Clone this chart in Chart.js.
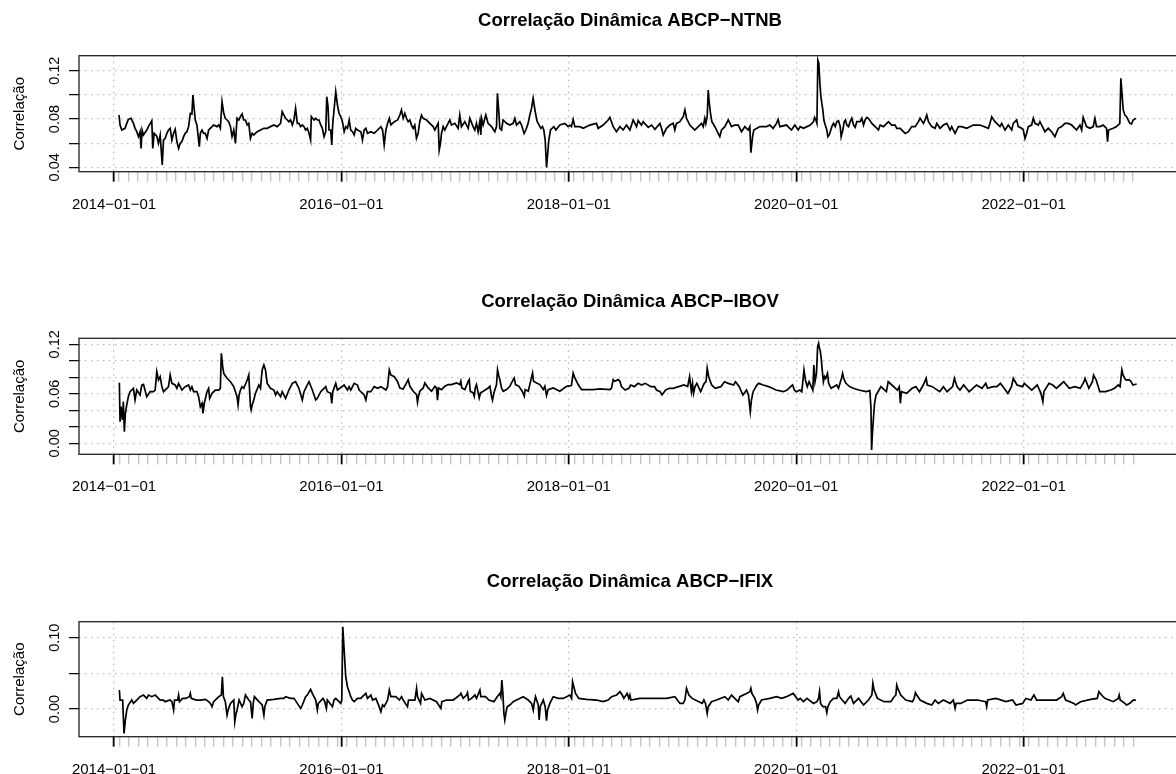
<!DOCTYPE html>
<html>
<head>
<meta charset="utf-8">
<script src="https://cdn.jsdelivr.net/npm/chart.js@4.4.1/dist/chart.umd.min.js"></script>
<style>
  html, body { margin: 0; padding: 0; background: #fff; overflow: hidden; }
  #wrap { position: relative; width: 1176px; height: 774px; overflow: hidden; background: #fff; }
  canvas { position: absolute; left: 0; }
</style>
</head>
<body>
<div id="wrap">
  <canvas id="c1"></canvas>
  <canvas id="c2"></canvas>
  <canvas id="c3"></canvas>
</div>
<script>
// ---- data (dates as decimal years) ----
const ntnbDates = [
  2014.044, 2014.053, 2014.068, 2014.097, 2014.112, 2014.126, 2014.150, 2014.171, 2014.185, 2014.200,
  2014.215, 2014.229, 2014.238, 2014.247, 2014.259, 2014.288, 2014.303, 2014.332, 2014.341, 2014.353,
  2014.376, 2014.391, 2014.406, 2014.424, 2014.435, 2014.450, 2014.465, 2014.479, 2014.494, 2014.509,
  2014.524, 2014.538, 2014.553, 2014.568, 2014.582, 2014.597, 2014.612, 2014.626, 2014.641, 2014.656,
  2014.671, 2014.685, 2014.694, 2014.706, 2014.715, 2014.729, 2014.750, 2014.759, 2014.774, 2014.788,
  2014.803, 2014.818, 2014.832, 2014.847, 2014.876, 2014.906, 2014.921, 2014.935, 2014.950, 2014.965,
  2014.979, 2014.994, 2015.009, 2015.024, 2015.038, 2015.053, 2015.068, 2015.082, 2015.097, 2015.112,
  2015.126, 2015.141, 2015.156, 2015.171, 2015.185, 2015.200, 2015.215, 2015.229, 2015.259, 2015.288,
  2015.318, 2015.347, 2015.376, 2015.406, 2015.435, 2015.465, 2015.479, 2015.494, 2015.509, 2015.524,
  2015.538, 2015.553, 2015.568, 2015.582, 2015.597, 2015.612, 2015.626, 2015.641, 2015.656, 2015.671,
  2015.685, 2015.700, 2015.715, 2015.729, 2015.735, 2015.759, 2015.774, 2015.788, 2015.803, 2015.818,
  2015.832, 2015.847, 2015.862, 2015.871, 2015.882, 2015.891, 2015.906, 2015.915, 2015.924, 2015.935,
  2015.950, 2015.965, 2015.979, 2015.994, 2016.009, 2016.024, 2016.038, 2016.053, 2016.068, 2016.082,
  2016.097, 2016.112, 2016.126, 2016.141, 2016.171, 2016.185, 2016.200, 2016.215, 2016.229, 2016.259,
  2016.288, 2016.318, 2016.347, 2016.362, 2016.376, 2016.391, 2016.406, 2016.421, 2016.435, 2016.465,
  2016.494, 2016.514, 2016.528, 2016.543, 2016.558, 2016.572, 2016.587, 2016.602, 2016.616, 2016.631,
  2016.645, 2016.660, 2016.675, 2016.689, 2016.704, 2016.719, 2016.748, 2016.777, 2016.807, 2016.821,
  2016.851, 2016.860, 2016.871, 2016.880, 2016.895, 2016.909, 2016.953, 2016.968, 2016.997, 2017.027,
  2017.041, 2017.056, 2017.085, 2017.115, 2017.129, 2017.158, 2017.173, 2017.188, 2017.202, 2017.217,
  2017.226, 2017.232, 2017.246, 2017.270, 2017.290, 2017.320, 2017.349, 2017.364, 2017.372, 2017.384,
  2017.393, 2017.408, 2017.422, 2017.452, 2017.481, 2017.510, 2017.525, 2017.540, 2017.569, 2017.584,
  2017.607, 2017.622, 2017.642, 2017.657, 2017.672, 2017.686, 2017.695, 2017.707, 2017.722, 2017.739,
  2017.754, 2017.768, 2017.780, 2017.792, 2017.804, 2017.812, 2017.824, 2017.839, 2017.868, 2017.886,
  2017.921, 2017.965, 2017.994, 2018.009, 2018.023, 2018.038, 2018.053, 2018.097, 2018.126, 2018.185,
  2018.243, 2018.258, 2018.302, 2018.346, 2018.361, 2018.390, 2018.419, 2018.449, 2018.478, 2018.507,
  2018.537, 2018.566, 2018.595, 2018.610, 2018.639, 2018.654, 2018.698, 2018.728, 2018.757, 2018.801,
  2018.815, 2018.830, 2018.859, 2018.889, 2018.918, 2018.932, 2018.947, 2018.977, 2019.006, 2019.021,
  2019.035, 2019.064, 2019.108, 2019.138, 2019.167, 2019.182, 2019.196, 2019.205, 2019.217, 2019.226,
  2019.234, 2019.246, 2019.258, 2019.284, 2019.314, 2019.328, 2019.343, 2019.372, 2019.402, 2019.431,
  2019.460, 2019.490, 2019.519, 2019.548, 2019.578, 2019.592, 2019.601, 2019.616, 2019.627, 2019.680,
  2019.739, 2019.768, 2019.797, 2019.826, 2019.841, 2019.856, 2019.914, 2019.958, 2019.988, 2020.017,
  2020.035, 2020.064, 2020.094, 2020.123, 2020.152, 2020.161, 2020.173, 2020.182, 2020.190, 2020.199,
  2020.208, 2020.217, 2020.225, 2020.234, 2020.243, 2020.255, 2020.269, 2020.278, 2020.290, 2020.299,
  2020.313, 2020.328, 2020.343, 2020.357, 2020.372, 2020.387, 2020.395, 2020.410, 2020.422, 2020.433,
  2020.445, 2020.460, 2020.474, 2020.489, 2020.504, 2020.518, 2020.533, 2020.562, 2020.577, 2020.592,
  2020.606, 2020.621, 2020.635, 2020.665, 2020.694, 2020.723, 2020.738, 2020.767, 2020.796, 2020.811,
  2020.840, 2020.870, 2020.884, 2020.914, 2020.958, 2020.987, 2021.016, 2021.045, 2021.075, 2021.089,
  2021.119, 2021.133, 2021.148, 2021.163, 2021.192, 2021.221, 2021.236, 2021.265, 2021.294, 2021.324,
  2021.353, 2021.367, 2021.397, 2021.426, 2021.455, 2021.499, 2021.558, 2021.616, 2021.690, 2021.704,
  2021.719, 2021.748, 2021.792, 2021.807, 2021.836, 2021.865, 2021.895, 2021.909, 2021.939, 2021.953,
  2021.982, 2021.997, 2022.012, 2022.026, 2022.041, 2022.070, 2022.085, 2022.100, 2022.129, 2022.143,
  2022.173, 2022.187, 2022.217, 2022.246, 2022.275, 2022.305, 2022.334, 2022.363, 2022.392, 2022.422,
  2022.451, 2022.466, 2022.495, 2022.510, 2022.524, 2022.553, 2022.583, 2022.612, 2022.627, 2022.641,
  2022.671, 2022.700, 2022.729, 2022.738, 2022.747, 2022.788, 2022.817, 2022.846, 2022.855, 2022.867,
  2022.876, 2022.890, 2022.905, 2022.919, 2022.934, 2022.949, 2022.963, 2022.987
];
const ntnbValues = [
  0.0833, 0.0750, 0.0709, 0.0723, 0.0764, 0.0797, 0.0806, 0.0764, 0.0723, 0.0695,
  0.0654, 0.0695, 0.0557, 0.0709, 0.0668, 0.0709, 0.0737, 0.0786, 0.0557, 0.0682,
  0.0659, 0.0599, 0.0668, 0.0419, 0.0626, 0.0640, 0.0682, 0.0709, 0.0723, 0.0626,
  0.0682, 0.0715, 0.0613, 0.0557, 0.0599, 0.0613, 0.0654, 0.0682, 0.0695, 0.0737,
  0.0847, 0.0842, 0.0999, 0.0875, 0.0792, 0.0751, 0.0571, 0.0682, 0.0709, 0.0682,
  0.0682, 0.0640, 0.0709, 0.0723, 0.0751, 0.0737, 0.0751, 0.0723, 0.0944, 0.0847,
  0.0806, 0.0792, 0.0778, 0.0737, 0.0654, 0.0709, 0.0599, 0.0806, 0.0792, 0.0820,
  0.0842, 0.0792, 0.0792, 0.0751, 0.0764, 0.0640, 0.0682, 0.0668, 0.0695, 0.0709,
  0.0723, 0.0723, 0.0737, 0.0751, 0.0737, 0.0764, 0.0861, 0.0833, 0.0806, 0.0792,
  0.0778, 0.0792, 0.0751, 0.0792, 0.0889, 0.0764, 0.0764, 0.0737, 0.0751, 0.0737,
  0.0709, 0.0723, 0.0682, 0.0626, 0.0820, 0.0792, 0.0806, 0.0792, 0.0792, 0.0751,
  0.0723, 0.0654, 0.0695, 0.0985, 0.0902, 0.0709, 0.0709, 0.0585, 0.0764, 0.0875,
  0.1026, 0.0916, 0.0847, 0.0820, 0.0778, 0.0695, 0.0737, 0.0723, 0.0792, 0.0709,
  0.0695, 0.0668, 0.0723, 0.0709, 0.0695, 0.0626, 0.0709, 0.0723, 0.0682, 0.0695,
  0.0682, 0.0709, 0.0737, 0.0709, 0.0585, 0.0709, 0.0764, 0.0806, 0.0751, 0.0778,
  0.0792, 0.0833, 0.0875, 0.0806, 0.0847, 0.0806, 0.0778, 0.0792, 0.0750, 0.0723,
  0.0750, 0.0640, 0.0681, 0.0778, 0.0833, 0.0806, 0.0792, 0.0764, 0.0737, 0.0709,
  0.0764, 0.0543, 0.0599, 0.0681, 0.0737, 0.0709, 0.0792, 0.0750, 0.0764, 0.0723,
  0.0833, 0.0737, 0.0778, 0.0723, 0.0806, 0.0737, 0.0709, 0.0764, 0.0695, 0.0778,
  0.0668, 0.0806, 0.0750, 0.0833, 0.0764, 0.0737, 0.0695, 0.0737, 0.1013, 0.0861,
  0.0723, 0.0709, 0.0792, 0.0764, 0.0750, 0.0764, 0.0806, 0.0750, 0.0778, 0.0750,
  0.0681, 0.0709, 0.0764, 0.0833, 0.0888, 0.0971, 0.0916, 0.0847, 0.0778, 0.0750,
  0.0723, 0.0737, 0.0709, 0.0626, 0.0400, 0.0488, 0.0626, 0.0709, 0.0737, 0.0709,
  0.0750, 0.0764, 0.0737, 0.0750, 0.0737, 0.0797, 0.0737, 0.0737, 0.0723, 0.0750,
  0.0764, 0.0723, 0.0750, 0.0792, 0.0814, 0.0737, 0.0695, 0.0737, 0.0709, 0.0750,
  0.0709, 0.0792, 0.0737, 0.0786, 0.0750, 0.0778, 0.0731, 0.0750, 0.0715, 0.0764,
  0.0723, 0.0668, 0.0723, 0.0750, 0.0764, 0.0709, 0.0764, 0.0778, 0.0819, 0.0875,
  0.0806, 0.0750, 0.0709, 0.0737, 0.0764, 0.0737, 0.0806, 0.0764, 0.0819, 0.1040,
  0.0944, 0.0847, 0.0778, 0.0737, 0.0681, 0.0654, 0.0709, 0.0737, 0.0792, 0.0737,
  0.0750, 0.0750, 0.0695, 0.0737, 0.0709, 0.0737, 0.0521, 0.0654, 0.0709, 0.0737,
  0.0737, 0.0750, 0.0723, 0.0764, 0.0797, 0.0737, 0.0750, 0.0709, 0.0750, 0.0709,
  0.0737, 0.0723, 0.0737, 0.0750, 0.0778, 0.0814, 0.0792, 0.0764, 0.1288, 0.1261,
  0.1095, 0.0985, 0.0930, 0.0875, 0.0792, 0.0750, 0.0709, 0.0654, 0.0668, 0.0695,
  0.0737, 0.0764, 0.0737, 0.0778, 0.0786, 0.0737, 0.0654, 0.0709, 0.0778, 0.0792,
  0.0750, 0.0737, 0.0778, 0.0806, 0.0750, 0.0731, 0.0778, 0.0778, 0.0806, 0.0750,
  0.0792, 0.0814, 0.0806, 0.0764, 0.0737, 0.0709, 0.0750, 0.0737, 0.0764, 0.0778,
  0.0750, 0.0750, 0.0723, 0.0723, 0.0681, 0.0695, 0.0737, 0.0737, 0.0778, 0.0806,
  0.0764, 0.0792, 0.0833, 0.0778, 0.0737, 0.0723, 0.0764, 0.0723, 0.0750, 0.0764,
  0.0709, 0.0737, 0.0681, 0.0737, 0.0737, 0.0723, 0.0750, 0.0750, 0.0723, 0.0764,
  0.0819, 0.0778, 0.0737, 0.0764, 0.0709, 0.0750, 0.0709, 0.0764, 0.0792, 0.0737,
  0.0723, 0.0709, 0.0640, 0.0681, 0.0737, 0.0750, 0.0806, 0.0764, 0.0750, 0.0778,
  0.0723, 0.0695, 0.0723, 0.0695, 0.0654, 0.0723, 0.0737, 0.0764, 0.0764, 0.0750,
  0.0723, 0.0709, 0.0750, 0.0709, 0.0814, 0.0737, 0.0723, 0.0737, 0.0806, 0.0737,
  0.0737, 0.0750, 0.0723, 0.0612, 0.0709, 0.0723, 0.0737, 0.0764, 0.1137, 0.0985,
  0.0875, 0.0833, 0.0819, 0.0792, 0.0764, 0.0759, 0.0792, 0.0806
];

const ibovDates = [
  2014.047, 2014.053, 2014.062, 2014.074, 2014.082, 2014.091, 2014.100, 2014.112, 2014.126, 2014.141,
  2014.171, 2014.185, 2014.200, 2014.229, 2014.244, 2014.259, 2014.288, 2014.318, 2014.347, 2014.362,
  2014.376, 2014.391, 2014.406, 2014.421, 2014.435, 2014.465, 2014.479, 2014.494, 2014.509, 2014.538,
  2014.553, 2014.568, 2014.597, 2014.626, 2014.656, 2014.671, 2014.685, 2014.700, 2014.729, 2014.744,
  2014.759, 2014.774, 2014.782, 2014.794, 2014.818, 2014.832, 2014.841, 2014.862, 2014.891, 2014.921,
  2014.935, 2014.944, 2014.956, 2014.965, 2014.994, 2015.024, 2015.053, 2015.068, 2015.082, 2015.091,
  2015.100, 2015.112, 2015.126, 2015.141, 2015.171, 2015.185, 2015.200, 2015.206, 2015.215, 2015.229,
  2015.244, 2015.274, 2015.288, 2015.303, 2015.318, 2015.332, 2015.347, 2015.376, 2015.406, 2015.421,
  2015.435, 2015.465, 2015.479, 2015.509, 2015.538, 2015.568, 2015.597, 2015.626, 2015.656, 2015.671,
  2015.700, 2015.715, 2015.744, 2015.774, 2015.788, 2015.818, 2015.862, 2015.876, 2015.906, 2015.915,
  2015.924, 2015.950, 2015.965, 2016.024, 2016.053, 2016.068, 2016.082, 2016.112, 2016.141, 2016.156,
  2016.200, 2016.215, 2016.229, 2016.259, 2016.288, 2016.318, 2016.347, 2016.391, 2016.406, 2016.421,
  2016.435, 2016.465, 2016.494, 2016.514, 2016.543, 2016.573, 2016.587, 2016.602, 2016.631, 2016.661,
  2016.669, 2016.678, 2016.690, 2016.719, 2016.734, 2016.763, 2016.793, 2016.822, 2016.836, 2016.845,
  2016.854, 2016.880, 2016.910, 2016.939, 2016.968, 2017.012, 2017.042, 2017.050, 2017.059, 2017.086,
  2017.115, 2017.124, 2017.133, 2017.159, 2017.168, 2017.177, 2017.188, 2017.203, 2017.212, 2017.223,
  2017.247, 2017.291, 2017.306, 2017.320, 2017.329, 2017.341, 2017.364, 2017.373, 2017.382, 2017.393,
  2017.408, 2017.423, 2017.452, 2017.481, 2017.511, 2017.520, 2017.531, 2017.561, 2017.590, 2017.608,
  2017.616, 2017.643, 2017.657, 2017.681, 2017.690, 2017.716, 2017.745, 2017.775, 2017.789, 2017.804,
  2017.818, 2017.863, 2017.921, 2017.980, 2018.023, 2018.038, 2018.053, 2018.082, 2018.112, 2018.156,
  2018.214, 2018.273, 2018.361, 2018.376, 2018.390, 2018.405, 2018.434, 2018.449, 2018.463, 2018.495,
  2018.528, 2018.544, 2018.576, 2018.609, 2018.641, 2018.673, 2018.722, 2018.754, 2018.771, 2018.803,
  2018.819, 2018.852, 2018.884, 2018.916, 2018.965, 2019.013, 2019.045, 2019.062, 2019.078, 2019.088,
  2019.097, 2019.110, 2019.126, 2019.159, 2019.191, 2019.207, 2019.217, 2019.230, 2019.256, 2019.288,
  2019.337, 2019.369, 2019.402, 2019.450, 2019.466, 2019.499, 2019.531, 2019.563, 2019.580, 2019.596,
  2019.606, 2019.621, 2019.654, 2019.670, 2019.709, 2019.757, 2019.790, 2019.822, 2019.887, 2019.919,
  2019.951, 2019.968, 2019.984, 2020.000, 2020.032, 2020.049, 2020.058, 2020.068, 2020.081, 2020.097,
  2020.113, 2020.146, 2020.155, 2020.165, 2020.178, 2020.188, 2020.197, 2020.204, 2020.210, 2020.220,
  2020.230, 2020.239, 2020.249, 2020.259, 2020.275, 2020.285, 2020.307, 2020.356, 2020.372, 2020.398,
  2020.408, 2020.417, 2020.437, 2020.469, 2020.502, 2020.550, 2020.615, 2020.647, 2020.657, 2020.663,
  2020.670, 2020.680, 2020.689, 2020.702, 2020.728, 2020.744, 2020.793, 2020.809, 2020.841, 2020.890,
  2020.906, 2020.916, 2020.925, 2020.971, 2021.019, 2021.052, 2021.084, 2021.117, 2021.143, 2021.152,
  2021.197, 2021.262, 2021.294, 2021.327, 2021.375, 2021.391, 2021.414, 2021.440, 2021.472, 2021.521,
  2021.570, 2021.586, 2021.634, 2021.667, 2021.683, 2021.732, 2021.764, 2021.796, 2021.861, 2021.893,
  2021.909, 2021.942, 2021.990, 2022.006, 2022.071, 2022.120, 2022.152, 2022.169, 2022.178, 2022.223,
  2022.256, 2022.288, 2022.320, 2022.353, 2022.401, 2022.450, 2022.498, 2022.531, 2022.540, 2022.573,
  2022.605, 2022.615, 2022.638, 2022.670, 2022.719, 2022.767, 2022.799, 2022.832, 2022.848, 2022.864,
  2022.874, 2022.897, 2022.929, 2022.945, 2022.961, 2022.994
];
const ibovValues = [
  0.0735, 0.0263, 0.0444, 0.0283, 0.0505, 0.0141, 0.0364, 0.0465, 0.0566, 0.0626,
  0.0667, 0.0525, 0.0646, 0.0586, 0.0707, 0.0715, 0.0566, 0.0626, 0.0626, 0.0646,
  0.0869, 0.0768, 0.0808, 0.0687, 0.0626, 0.0667, 0.0687, 0.0828, 0.0727, 0.0707,
  0.0667, 0.0727, 0.0646, 0.0687, 0.0707, 0.0646, 0.0687, 0.0626, 0.0626, 0.0566,
  0.0444, 0.0485, 0.0364, 0.0485, 0.0626, 0.0667, 0.0545, 0.0606, 0.0646, 0.0646,
  0.0667, 0.1091, 0.0929, 0.0848, 0.0788, 0.0747, 0.0687, 0.0626, 0.0566, 0.0465,
  0.0586, 0.0646, 0.0687, 0.0667, 0.0768, 0.0828, 0.0444, 0.0404, 0.0465, 0.0525,
  0.0606, 0.0707, 0.0667, 0.0889, 0.0949, 0.0889, 0.0727, 0.0667, 0.0646, 0.0586,
  0.0626, 0.0566, 0.0626, 0.0545, 0.0646, 0.0727, 0.0747, 0.0667, 0.0525, 0.0626,
  0.0707, 0.0747, 0.0646, 0.0525, 0.0545, 0.0626, 0.0687, 0.0626, 0.0606, 0.0485,
  0.0626, 0.0727, 0.0646, 0.0707, 0.0646, 0.0687, 0.0646, 0.0727, 0.0707, 0.0646,
  0.0586, 0.0525, 0.0626, 0.0626, 0.0687, 0.0667, 0.0687, 0.0646, 0.0687, 0.0889,
  0.0828, 0.0808, 0.0747, 0.0671, 0.0659, 0.0732, 0.0772, 0.0691, 0.0631, 0.0591,
  0.0498, 0.0571, 0.0631, 0.0671, 0.0732, 0.0671, 0.0631, 0.0691, 0.0671, 0.0523,
  0.0671, 0.0651, 0.0691, 0.0712, 0.0712, 0.0732, 0.0712, 0.0752, 0.0671, 0.0651,
  0.0752, 0.0772, 0.0631, 0.0611, 0.0571, 0.0671, 0.0712, 0.0611, 0.0551, 0.0611,
  0.0631, 0.0671, 0.0691, 0.0571, 0.0523, 0.0611, 0.0712, 0.0892, 0.0832, 0.0772,
  0.0671, 0.0631, 0.0651, 0.0691, 0.0772, 0.0792, 0.0712, 0.0691, 0.0631, 0.0571,
  0.0651, 0.0631, 0.0712, 0.0852, 0.0752, 0.0732, 0.0712, 0.0651, 0.0691, 0.0579,
  0.0651, 0.0671, 0.0631, 0.0691, 0.0700, 0.0852, 0.0792, 0.0712, 0.0651, 0.0651,
  0.0651, 0.0659, 0.0651, 0.0671, 0.0772, 0.0752, 0.0772, 0.0752, 0.0687, 0.0646,
  0.0667, 0.0707, 0.0687, 0.0727, 0.0707, 0.0727, 0.0687, 0.0687, 0.0646, 0.0626,
  0.0586, 0.0646, 0.0667, 0.0667, 0.0687, 0.0707, 0.0687, 0.0808, 0.0626, 0.0727,
  0.0606, 0.0687, 0.0727, 0.0626, 0.0727, 0.0747, 0.0909, 0.0808, 0.0707, 0.0667,
  0.0687, 0.0747, 0.0727, 0.0707, 0.0747, 0.0687, 0.0586, 0.0646, 0.0586, 0.0384,
  0.0525, 0.0626, 0.0707, 0.0727, 0.0707, 0.0687, 0.0667, 0.0646, 0.0626, 0.0646,
  0.0687, 0.0707, 0.0646, 0.0626, 0.0646, 0.0626, 0.0747, 0.0889, 0.0768, 0.0687,
  0.0747, 0.0646, 0.0949, 0.0747, 0.0848, 0.1172, 0.1212, 0.1151, 0.1131, 0.1030,
  0.0869, 0.0747, 0.0808, 0.0788, 0.0848, 0.0727, 0.0667, 0.0707, 0.0667, 0.0788,
  0.0848, 0.0788, 0.0727, 0.0687, 0.0667, 0.0646, 0.0626, 0.0638, 0.0444, -0.0081,
  0.0121, 0.0323, 0.0485, 0.0586, 0.0646, 0.0687, 0.0626, 0.0747, 0.0707, 0.0646,
  0.0687, 0.0485, 0.0626, 0.0606, 0.0667, 0.0687, 0.0626, 0.0707, 0.0788, 0.0707,
  0.0687, 0.0626, 0.0687, 0.0626, 0.0687, 0.0788, 0.0687, 0.0646, 0.0707, 0.0626,
  0.0687, 0.0707, 0.0667, 0.0727, 0.0667, 0.0687, 0.0687, 0.0727, 0.0606, 0.0687,
  0.0788, 0.0707, 0.0687, 0.0727, 0.0646, 0.0707, 0.0606, 0.0505, 0.0626, 0.0727,
  0.0707, 0.0667, 0.0707, 0.0747, 0.0667, 0.0687, 0.0667, 0.0747, 0.0788, 0.0667,
  0.0747, 0.0828, 0.0768, 0.0626, 0.0626, 0.0646, 0.0667, 0.0707, 0.0687, 0.0889,
  0.0828, 0.0768, 0.0768, 0.0747, 0.0707, 0.0719
];

const ifixDates = [
  2014.047, 2014.053, 2014.076, 2014.088, 2014.100, 2014.112, 2014.126, 2014.156, 2014.171, 2014.200,
  2014.229, 2014.259, 2014.288, 2014.303, 2014.332, 2014.362, 2014.406, 2014.435, 2014.450, 2014.494,
  2014.509, 2014.524, 2014.532, 2014.559, 2014.568, 2014.576, 2014.603, 2014.632, 2014.662, 2014.671,
  2014.679, 2014.724, 2014.759, 2014.803, 2014.832, 2014.847, 2014.862, 2014.876, 2014.921, 2014.944,
  2014.953, 2014.962, 2014.979, 2014.994, 2015.003, 2015.024, 2015.053, 2015.062, 2015.071, 2015.082,
  2015.100, 2015.126, 2015.141, 2015.156, 2015.185, 2015.200, 2015.215, 2015.224, 2015.235, 2015.274,
  2015.303, 2015.318, 2015.326, 2015.347, 2015.406, 2015.465, 2015.494, 2015.509, 2015.553, 2015.582,
  2015.612, 2015.641, 2015.656, 2015.685, 2015.700, 2015.729, 2015.744, 2015.774, 2015.788, 2015.797,
  2015.838, 2015.853, 2015.868, 2015.876, 2015.921, 2015.935, 2015.950, 2015.994, 2016.003, 2016.012,
  2016.024, 2016.038, 2016.053, 2016.068, 2016.082, 2016.097, 2016.112, 2016.141, 2016.171, 2016.185,
  2016.215, 2016.229, 2016.259, 2016.274, 2016.303, 2016.332, 2016.347, 2016.362, 2016.376, 2016.406,
  2016.421, 2016.435, 2016.479, 2016.509, 2016.529, 2016.543, 2016.581, 2016.590, 2016.646, 2016.661,
  2016.669, 2016.696, 2016.705, 2016.734, 2016.778, 2016.836, 2016.875, 2016.883, 2016.924, 2016.983,
  2017.042, 2017.051, 2017.071, 2017.100, 2017.109, 2017.118, 2017.144, 2017.174, 2017.188, 2017.218,
  2017.226, 2017.267, 2017.297, 2017.341, 2017.370, 2017.394, 2017.402, 2017.411, 2017.420, 2017.429,
  2017.437, 2017.446, 2017.458, 2017.481, 2017.511, 2017.540, 2017.599, 2017.643, 2017.672, 2017.687,
  2017.695, 2017.707, 2017.731, 2017.739, 2017.748, 2017.775, 2017.792, 2017.804, 2017.813, 2017.833,
  2017.863, 2017.907, 2017.951, 2018.009, 2018.024, 2018.033, 2018.044, 2018.059, 2018.088, 2018.156,
  2018.244, 2018.302, 2018.346, 2018.376, 2018.420, 2018.449, 2018.470, 2018.484, 2018.513, 2018.528,
  2018.537, 2018.546, 2018.625, 2018.742, 2018.859, 2018.933, 2018.977, 2019.006, 2019.021, 2019.035,
  2019.056, 2019.085, 2019.144, 2019.173, 2019.188, 2019.202, 2019.217, 2019.226, 2019.255, 2019.299,
  2019.372, 2019.402, 2019.431, 2019.475, 2019.490, 2019.504, 2019.563, 2019.592, 2019.601, 2019.610,
  2019.636, 2019.651, 2019.660, 2019.669, 2019.695, 2019.768, 2019.827, 2019.871, 2019.915, 2019.973,
  2020.017, 2020.035, 2020.064, 2020.094, 2020.152, 2020.182, 2020.196, 2020.205, 2020.214, 2020.234,
  2020.258, 2020.269, 2020.278, 2020.299, 2020.328, 2020.357, 2020.372, 2020.381, 2020.404, 2020.430,
  2020.460, 2020.480, 2020.504, 2020.548, 2020.592, 2020.635, 2020.665, 2020.674, 2020.685, 2020.714,
  2020.773, 2020.832, 2020.861, 2020.876, 2020.884, 2020.893, 2020.919, 2020.963, 2021.022, 2021.037,
  2021.048, 2021.060, 2021.089, 2021.148, 2021.192, 2021.221, 2021.250, 2021.294, 2021.353, 2021.382,
  2021.397, 2021.406, 2021.447, 2021.505, 2021.593, 2021.666, 2021.675, 2021.684, 2021.757, 2021.845,
  2021.903, 2021.933, 2021.991, 2022.020, 2022.064, 2022.091, 2022.114, 2022.202, 2022.290, 2022.334,
  2022.348, 2022.369, 2022.442, 2022.457, 2022.501, 2022.589, 2022.647, 2022.662, 2022.685, 2022.714,
  2022.788, 2022.832, 2022.840, 2022.849, 2022.890, 2022.905, 2022.934, 2022.963, 2022.987
];
const ifixValues = [
  0.0266, 0.0126, 0.0126, -0.0341, -0.0154, -0.0014, 0.0056, 0.0126, 0.0079, 0.0126,
  0.0173, 0.0196, 0.0149, 0.0196, 0.0173, 0.0196, 0.0126, 0.0126, 0.0103, 0.0126,
  0.0103, -0.0014, 0.0126, 0.0126, 0.0196, 0.0103, 0.0149, 0.0149, 0.0173, 0.0219,
  0.0149, 0.0126, 0.0126, 0.0135, 0.0103, 0.0079, 0.0033, 0.0103, 0.0173, 0.0196,
  0.0453, 0.0173, 0.0103, -0.0084, -0.0014, 0.0079, 0.0126, -0.0177, -0.0084, -0.0014,
  0.0126, 0.0033, 0.0079, 0.0196, 0.0126, 0.0103, -0.0131, 0.0079, 0.0173, 0.0103,
  0.0056, -0.0084, 0.0033, 0.0126, 0.0135, 0.0149, 0.0149, 0.0173, 0.0149, 0.0149,
  0.0079, 0.0009, 0.0056, 0.0173, 0.0196, 0.0276, 0.0219, 0.0126, -0.0014, 0.0079,
  0.0149, 0.0103, 0.0009, 0.0126, 0.0033, 0.0126, 0.0149, 0.0079, 0.0126, 0.1153,
  0.0827, 0.0453, 0.0313, 0.0243, 0.0173, 0.0126, 0.0103, 0.0149, 0.0149, 0.0173,
  0.0219, 0.0149, 0.0196, 0.0126, 0.0149, 0.0033, -0.0037, 0.0056, 0.0033, 0.0126,
  0.0266, 0.0173, 0.0173, 0.0126, 0.0173, 0.0126, 0.0033, 0.0126, 0.0126, 0.0290,
  0.0173, 0.0079, 0.0219, 0.0126, 0.0149, 0.0103, 0.0009, 0.0103, 0.0126, 0.0126,
  0.0196, 0.0219, 0.0149, 0.0196, 0.0229, 0.0126, 0.0149, 0.0196, 0.0149, 0.0266,
  0.0173, 0.0173, 0.0126, 0.0103, 0.0173, 0.0219, 0.0173, 0.0406, 0.0219, -0.0061,
  -0.0154, -0.0061, 0.0033, 0.0056, 0.0103, 0.0126, 0.0173, 0.0126, 0.0079, -0.0014,
  0.0079, 0.0173, 0.0056, -0.0154, 0.0033, 0.0126, 0.0033, -0.0163, -0.0014, 0.0079,
  0.0173, 0.0149, 0.0149, 0.0196, 0.0149, 0.0383, 0.0313, 0.0219, 0.0149, 0.0135,
  0.0126, 0.0103, 0.0126, 0.0173, 0.0196, 0.0243, 0.0196, 0.0149, 0.0219, 0.0149,
  0.0196, 0.0126, 0.0149, 0.0149, 0.0149, 0.0173, 0.0079, 0.0079, 0.0126, 0.0290,
  0.0196, 0.0149, 0.0103, 0.0079, 0.0126, 0.0079, -0.0061, 0.0033, 0.0103, 0.0126,
  0.0173, 0.0126, 0.0196, 0.0126, 0.0103, 0.0173, 0.0219, 0.0243, 0.0290, 0.0219,
  0.0149, 0.0079, -0.0014, 0.0056, 0.0126, 0.0149, 0.0173, 0.0149, 0.0173, 0.0219,
  0.0126, 0.0149, 0.0103, 0.0149, 0.0079, 0.0103, 0.0149, 0.0243, 0.0079, 0.0033,
  0.0033, -0.0051, 0.0033, 0.0103, 0.0149, 0.0149, 0.0243, 0.0173, 0.0126, 0.0079,
  0.0149, 0.0182, 0.0079, 0.0149, 0.0056, 0.0126, 0.0196, 0.0360, 0.0266, 0.0149,
  0.0103, 0.0103, 0.0173, 0.0196, 0.0336, 0.0290, 0.0196, 0.0126, 0.0103, 0.0149,
  0.0229, 0.0196, 0.0126, 0.0079, 0.0056, 0.0126, 0.0079, 0.0126, 0.0079, 0.0126,
  0.0009, 0.0079, 0.0079, 0.0126, 0.0126, 0.0103, 0.0033, 0.0126, 0.0149, 0.0103,
  0.0126, 0.0056, 0.0079, 0.0149, 0.0126, 0.0196, 0.0126, 0.0126, 0.0126, 0.0173,
  0.0219, 0.0126, 0.0079, 0.0056, 0.0103, 0.0135, 0.0149, 0.0243, 0.0196, 0.0149,
  0.0103, 0.0149, 0.0196, 0.0126, 0.0079, 0.0056, 0.0079, 0.0126, 0.0126
];

// axis ticks and labels
const yearTicks = [2014, 2016, 2018, 2020, 2022];
const yearLabels = ['2014\u221201\u221201', '2016\u221201\u221201', '2018\u221201\u221201', '2020\u221201\u221201', '2022\u221201\u221201'];

const ntnbTicks = [0.04, 0.06, 0.08, 0.10, 0.12];
const ntnbTickLabels = ['0.04', '', '0.08', '', '0.12'];
const ibovTicks = [0.00, 0.02, 0.04, 0.06, 0.08, 0.10, 0.12];
const ibovTickLabels = ['0.00', '', '', '0.06', '', '', '0.12'];
const ifixTicks = [0.00, 0.05, 0.10];
const ifixTickLabels = ['0.00', '', '0.10'];

// ---- layout / style ----
const FONT = '"Liberation Sans", Arial, Helvetica, sans-serif';
const CANVAS_W = 1200;
const PLOT_LEFT = 79, PLOT_RIGHT = 1181;
const X_MIN = 2013.692, X_MAX = 2023.384;
const GRID_COLOR = '#bdbdbd';
const TITLE_SIZE = 18.5, TITLE_LH = 1.2;

// monthly minor ticks, starting at the first observation
function monthTicks(first, last) {
  const out = [];
  for (let k = 0; first + k / 12 <= last + 0.001; k++) out.push({ value: first + k / 12, year: false });
  return out;
}

const boxPlugin = {
  id: 'box',
  afterDraw(chart) {
    const a = chart.chartArea, ctx = chart.ctx;
    ctx.save();
    ctx.strokeStyle = '#222';
    ctx.lineWidth = 1.3;
    ctx.strokeRect(a.left, a.top, a.right - a.left, a.bottom - a.top);
    ctx.restore();
  }
};

function makePanel(p) {
  const canvas = document.getElementById(p.id);
  canvas.width = CANVAS_W;
  canvas.height = p.height;
  canvas.style.top = p.top + 'px';

  const lh = TITLE_SIZE * TITLE_LH;
  const xTicks = monthTicks(p.dates[0], p.dates[p.dates.length - 1])
    .concat(yearTicks.map(v => ({ value: v, year: true })))
    .sort((a, b) => a.value - b.value);

  new Chart(canvas, {
    type: 'line',
    data: {
      datasets: [{
        data: p.dates.map((t, i) => ({ x: t, y: p.values[i] })),
        borderColor: '#000',
        borderWidth: 1.7,
        pointRadius: 0,
        tension: 0,
        fill: false
      }]
    },
    options: {
      responsive: false,
      devicePixelRatio: 1,
      animation: false,
      events: [],
      layout: { padding: { left: 0, right: CANVAS_W - PLOT_RIGHT, top: 0, bottom: 0 } },
      plugins: {
        legend: { display: false },
        tooltip: { enabled: false },
        title: {
          display: true,
          text: p.title,
          color: '#000',
          fullSize: false,
          font: { family: FONT, size: TITLE_SIZE, weight: 'bold', lineHeight: TITLE_LH },
          padding: { top: p.titleY - lh / 2, bottom: p.boxTop - p.titleY - lh / 2 }
        }
      },
      scales: {
        x: {
          type: 'linear',
          min: X_MIN,
          max: X_MAX,
          bounds: 'data',
          afterBuildTicks: s => { s.ticks = xTicks.map(t => Object.assign({}, t)); },
          afterFit: s => { s.height = p.height - p.boxBottom; },
          ticks: {
            autoSkip: false,
            maxRotation: 0,
            minRotation: 0,
            padding: 14,
            color: '#000',
            font: { family: FONT, size: 15 },
            callback: (v, i, ticks) => {
              const k = yearTicks.indexOf(ticks[i].value);
              return ticks[i].year && k >= 0 ? yearLabels[k] : '';
            }
          },
          grid: {
            drawOnChartArea: true,
            drawTicks: true,
            tickLength: 10,
            lineWidth: 1.3,
            color: c => (c.tick && c.tick.year ? GRID_COLOR : 'transparent'),
            tickColor: c => (c.tick && c.tick.year ? '#000' : '#c4c4c4'),
            tickWidth: c => (c.tick && c.tick.year ? 1.8 : 1.4)
          },
          border: { display: false, dash: [1.5, 4.5] }
        },
        y: {
          min: p.yMin,
          max: p.yMax,
          bounds: 'data',
          afterBuildTicks: s => { s.ticks = p.yTicks.map(v => ({ value: v })); },
          afterFit: s => { s.width = PLOT_LEFT; },
          ticks: {
            autoSkip: false,
            minRotation: 90,
            maxRotation: 90,
            crossAlign: 'center',
            padding: 0,
            color: '#000',
            font: { family: FONT, size: 14.5 },
            callback: (v, i) => p.yLabels[i]
          },
          title: {
            display: true,
            text: 'Correlação',
            color: '#000',
            font: { family: FONT, size: 15, lineHeight: 1.2 },
            padding: { top: 11, bottom: 0 }
          },
          grid: {
            drawOnChartArea: true,
            drawTicks: true,
            tickLength: 10,
            lineWidth: 1.3,
            color: GRID_COLOR,
            tickColor: '#000',
            tickWidth: 1.2
          },
          border: { display: false, dash: [1.5, 4.5] }
        }
      }
    },
    plugins: [boxPlugin]
  });
}

const panels = [
  { id: 'c1', top: 0, height: 232, titleY: 21, boxTop: 55.7, boxBottom: 171.7,
    title: 'Correlação Dinâmica ABCP\u2212NTNB', dates: ntnbDates, values: ntnbValues,
    yMin: 0.0364, yMax: 0.1324, yTicks: ntnbTicks, yLabels: ntnbTickLabels },
  { id: 'c2', top: 281, height: 232, titleY: 21, boxTop: 57.3, boxBottom: 173.3,
    title: 'Correlação Dinâmica ABCP\u2212IBOV', dates: ibovDates, values: ibovValues,
    yMin: -0.0133, yMax: 0.1273, yTicks: ibovTicks, yLabels: ibovTickLabels },
  { id: 'c3', top: 561, height: 213, titleY: 21, boxTop: 60.7, boxBottom: 175.7,
    title: 'Correlação Dinâmica ABCP\u2212IFIX', dates: ifixDates, values: ifixValues,
    yMin: -0.0388, yMax: 0.1224, yTicks: ifixTicks, yLabels: ifixTickLabels }
];

panels.forEach(makePanel);
</script>
</body>
</html>
